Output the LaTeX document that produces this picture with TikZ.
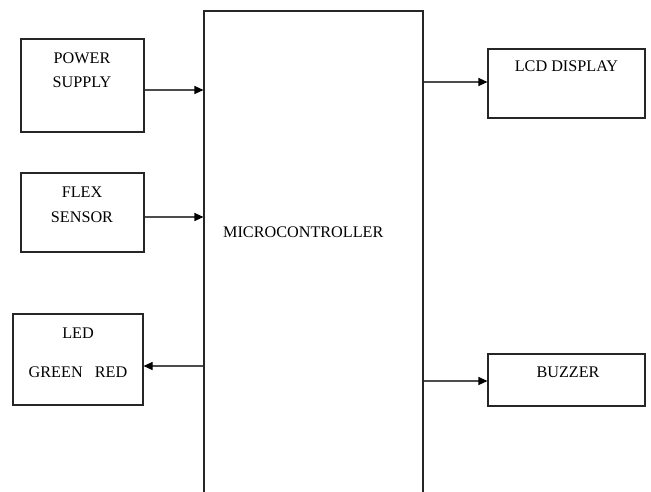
\documentclass[tikz,border=0pt]{standalone}
\usepackage{fontspec}
\setmainfont{Liberation Serif}
\usetikzlibrary{arrows.meta}
\begin{document}
\begin{tikzpicture}[x=1pt,y=-1pt,
  box/.style={draw=black!85,line width=1.1pt,rectangle,inner sep=0pt},
  lbl/.style={font=\fontsize{16.2}{24}\selectfont,text=black,inner sep=0pt,align=center},
  conn/.style={draw=black!70,line width=1.1pt,-{Triangle[length=9pt,width=8pt,color=black]}}]
\useasboundingbox (0,0) rectangle (651,491);
\clip (0,0) rectangle (651,491);
\node[box,minimum width=123pt,minimum height=93pt] (ps) at (82.5,85.5) {};
\node[box,minimum width=123pt,minimum height=79pt] (fs) at (82.5,212.5) {};
\node[box,minimum width=130pt,minimum height=91pt] (led) at (78,359.5) {};
\node[box,minimum width=157pt,minimum height=69pt] (lcd) at (566.5,83.5) {};
\node[box,minimum width=157pt,minimum height=52pt] (bz) at (566.5,380) {};
\node[box,minimum width=219pt,minimum height=489pt] (mc) at (313.5,255.5) {};
\node[lbl] (tps1) at (82,58) {POWER};
\node[lbl] (tps2) at (82,82) {SUPPLY};
\node[lbl] (tfs1) at (82,192) {FLEX};
\node[lbl] (tfs2) at (82,217) {SENSOR};
\node[lbl] (tled1) at (78,333) {LED};
\node[lbl] (tled2) at (78,372) {GREEN\ \ \ RED};
\node[lbl] (tlcd) at (566.5,66) {LCD DISPLAY};
\node[lbl] (tbz) at (568,372) {BUZZER};
\node[lbl,anchor=west] (tmc) at (223,232) {MICROCONTROLLER};
\draw[conn] (ps.east |- 0,90) -- (mc.west |- 0,90);
\draw[conn] (fs.east |- 0,217) -- (mc.west |- 0,217);
\draw[conn] (mc.west |- 0,366) -- (led.east |- 0,366);
\draw[conn] (mc.east |- 0,82) -- (lcd.west |- 0,82);
\draw[conn] (mc.east |- 0,381) -- (bz.west |- 0,381);
\end{tikzpicture}
\end{document}
